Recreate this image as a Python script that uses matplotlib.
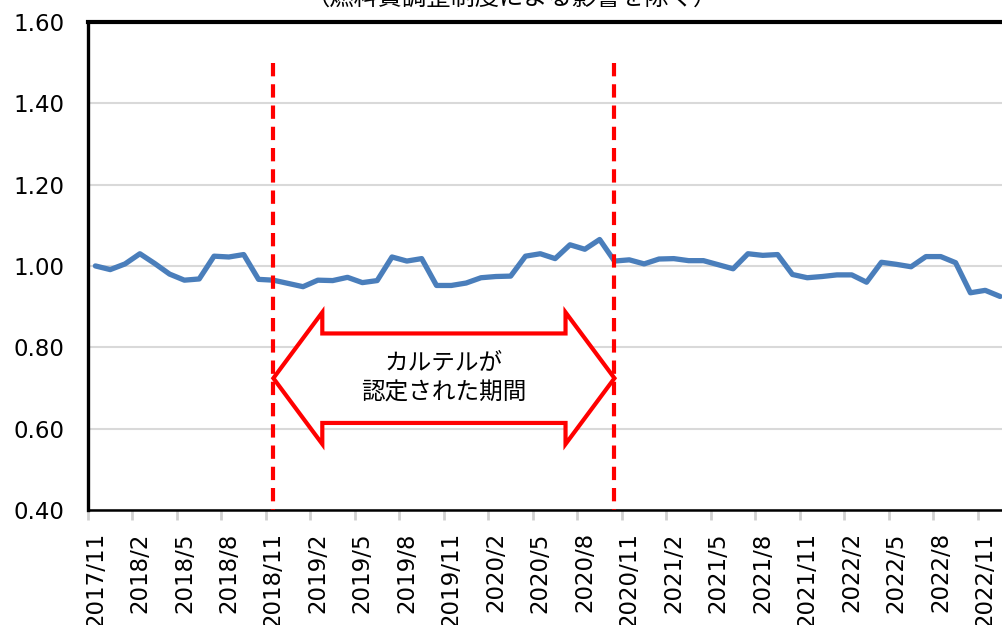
import matplotlib
matplotlib.use("Agg")
import matplotlib.pyplot as plt
from matplotlib.patches import Polygon

# monthly categories (2017/11 - 2022/12)
months = [
    "2017/11", "2017/12",
    "2018/1", "2018/2", "2018/3", "2018/4", "2018/5", "2018/6",
    "2018/7", "2018/8", "2018/9", "2018/10", "2018/11", "2018/12",
    "2019/1", "2019/2", "2019/3", "2019/4", "2019/5", "2019/6",
    "2019/7", "2019/8", "2019/9", "2019/10", "2019/11", "2019/12",
    "2020/1", "2020/2", "2020/3", "2020/4", "2020/5", "2020/6",
    "2020/7", "2020/8", "2020/9", "2020/10", "2020/11", "2020/12",
    "2021/1", "2021/2", "2021/3", "2021/4", "2021/5", "2021/6",
    "2021/7", "2021/8", "2021/9", "2021/10", "2021/11", "2021/12",
    "2022/1", "2022/2", "2022/3", "2022/4", "2022/5", "2022/6",
    "2022/7", "2022/8", "2022/9", "2022/10", "2022/11", "2022/12",
]

ratio = [
    1.000, 0.991, 1.005, 1.030, 1.006, 0.980, 0.965, 0.968, 1.024, 1.022,
    1.028, 0.967, 0.965, 0.957, 0.949, 0.965, 0.964, 0.972, 0.959, 0.964,
    1.022, 1.012, 1.018, 0.952, 0.952, 0.958, 0.971, 0.974, 0.975, 1.024,
    1.030, 1.018, 1.052, 1.041, 1.065, 1.012, 1.015, 1.005, 1.017, 1.018,
    1.013, 1.013, 1.003, 0.993, 1.030, 1.026, 1.028, 0.979, 0.971, 0.974,
    0.978, 0.978, 0.960, 1.009, 1.004, 0.998, 1.023, 1.023, 1.008, 0.934,
    0.940, 0.925,
]

cartel_start = "2018/11"
cartel_end = "2020/10"
period_text = "カルテルが\n認定された期間"
title = "（燃料費調整制度による影響を除く）"

yticks = [0.40, 0.60, 0.80, 1.00, 1.20, 1.40, 1.60]

fig = plt.figure(figsize=(10.02, 6.25), dpi=100)
ax = fig.add_axes([0.0878, 0.184, 0.9122, 0.781])

x = list(range(len(months)))
ax.plot(x, ratio, color="#4a7ebb", linewidth=3.8, solid_joinstyle="round",
        solid_capstyle="round", zorder=4)

ax.set_ylim(0.40, 1.60)
ax.set_xlim(-0.5, 61.13)
ax.set_yticks(yticks)
ax.set_yticklabels([f"{v:.2f}" for v in yticks], fontsize=16.5)
ax.tick_params(axis="y", length=0, pad=17)
ax.yaxis.grid(True, color="#d9d9d9", linewidth=1.5)
ax.set_axisbelow(True)

# category boundaries carry the tick marks, labels sit on the categories
label_idx = list(range(0, len(months), 3))
ax.set_xticks([i - 0.5 for i in label_idx])
ax.set_xticklabels([])
ax.tick_params(axis="x", which="major", length=7, width=2, color="#d0d0d0")
ax.set_xticks(label_idx, minor=True)
ax.set_xticklabels([months[i] for i in label_idx], minor=True,
                   rotation=90, fontsize=16.5)
ax.tick_params(axis="x", which="minor", length=0, pad=16)

for side in ["left", "top", "bottom"]:
    ax.spines[side].set_color("black")
ax.spines["left"].set_linewidth(2.4)
ax.spines["top"].set_linewidth(3.0)
ax.spines["bottom"].set_linewidth(1.8)
ax.spines["right"].set_visible(False)

# cartel period markers (drawn top-down so the dash pattern starts at the top)
x0 = months.index(cartel_start)
x1 = months.index(cartel_end)
for xv in (x0, x1):
    ax.plot([xv, xv], [1.50, 0.40], color="#ff0000", linewidth=3,
            linestyle=(0, (3.2, 1.9)), zorder=5, clip_on=False)

# double headed block arrow
yc = 0.724
head_h = 0.162
shaft_h = 0.110
head_l = 3.3
pts = [
    (x0, yc), (x0 + head_l, yc + head_h), (x0 + head_l, yc + shaft_h),
    (x1 - head_l, yc + shaft_h), (x1 - head_l, yc + head_h), (x1, yc),
    (x1 - head_l, yc - head_h), (x1 - head_l, yc - shaft_h),
    (x0 + head_l, yc - shaft_h), (x0 + head_l, yc - head_h),
]
ax.add_patch(Polygon(pts, closed=True, facecolor="white", edgecolor="#ff0000",
                     linewidth=3, joinstyle="miter", zorder=6))
ax.text((x0 + x1) / 2, yc, period_text, ha="center", va="center",
        fontsize=17, linespacing=1.35, family=["Noto Sans CJK JP", "DejaVu Sans"],
        zorder=7)

fig.text(0.51, 0.991, title, ha="center", va="baseline", fontsize=17.5,
         family=["Noto Sans CJK JP", "DejaVu Sans"])

fig.savefig("out.png", dpi=100)
